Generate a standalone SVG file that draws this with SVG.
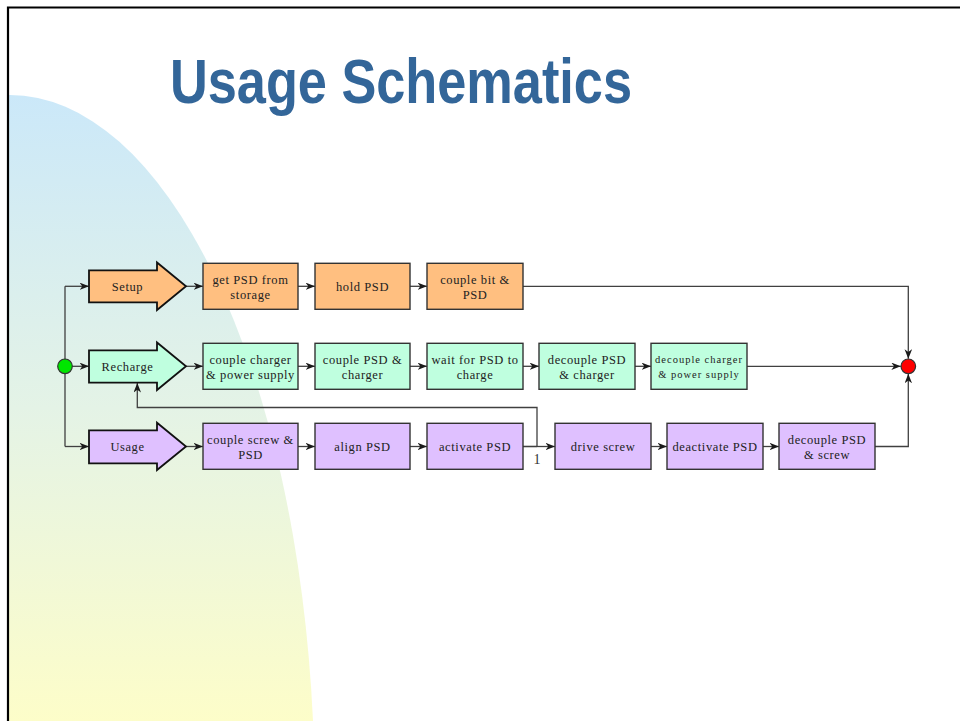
<svg xmlns="http://www.w3.org/2000/svg" width="960" height="721" viewBox="0 0 960 721">
<defs>
<linearGradient id="bg" x1="0" y1="95" x2="0" y2="721" gradientUnits="userSpaceOnUse">
<stop offset="0" stop-color="#cbe8f9"/>
<stop offset="0.5" stop-color="#e4f3e6"/>
<stop offset="1" stop-color="#fdfdc9"/>
</linearGradient>
<marker id="ah" markerUnits="userSpaceOnUse" markerWidth="11" markerHeight="8" refX="9.5" refY="3.75" orient="auto">
<path d="M0,0 L9.5,3.75 L0,7.5 L2.8,3.75 Z" fill="#1a1a1a"/>
</marker>
<style>
.t{font-family:"Liberation Serif","Times New Roman",serif;font-size:12.5px;letter-spacing:0.6px;fill:#222;text-anchor:middle}
.ts{font-family:"Liberation Serif","Times New Roman",serif;font-size:10.5px;letter-spacing:1px;fill:#222;text-anchor:middle}
.box{stroke:#333;stroke-width:1.4}
.arr{stroke:#111;stroke-width:1.8}
.or{fill:#ffbf80}.mi{fill:#bfffdf}.la{fill:#dfc0ff}
.c{fill:none;stroke:#404040;stroke-width:1.3}
.ca{fill:none;stroke:#404040;stroke-width:1.3;marker-end:url(#ah)}
</style>
</defs>
<rect x="0" y="0" width="960" height="721" fill="#fff"/>
<path d="M8,95 L10,95 A305,700 0 0 1 313,721 L8,721 Z" fill="url(#bg)"/>
<path d="M8,721 V7.5 H960" fill="none" stroke="#000" stroke-width="2.2"/>
<text x="170" y="103" font-family="Liberation Sans Narrow, Liberation Sans, Arial, sans-serif" font-weight="bold" font-size="63" fill="#336699" textLength="462" lengthAdjust="spacingAndGlyphs">Usage Schematics</text>

<g id="connectors">
<path class="c" d="M65,286.3 V446.5"/>
<path class="ca" d="M65,286.3 H89"/>
<path class="ca" d="M72,366.3 H89"/>
<path class="ca" d="M65,446.5 H89"/>
<path class="ca" d="M186,286.3 H203"/>
<path class="ca" d="M186,366.3 H203"/>
<path class="ca" d="M186,446.5 H203"/>
<path class="ca" d="M298,286.3 H315"/>
<path class="ca" d="M410,286.3 H427"/>
<path class="ca" d="M523,286.3 H908.3 V358.8"/>
<path class="ca" d="M298,366.3 H315"/>
<path class="ca" d="M410,366.3 H427"/>
<path class="ca" d="M523,366.3 H539"/>
<path class="ca" d="M635,366.3 H651"/>
<path class="ca" d="M747,366.3 H900.8"/>
<path class="ca" d="M298,446.5 H315"/>
<path class="ca" d="M410,446.5 H427"/>
<path class="ca" d="M523,446.5 H555"/>
<path class="c" d="M523,446.5 H537" stroke-width="2.2"/>
<path class="ca" d="M537,446.5 V407.5 H137.3 V383"/>
<path class="ca" d="M651,446.5 H667"/>
<path class="ca" d="M763,446.5 H779"/>
<path class="ca" d="M875,446.5 H908.3 V373.8"/>
<text x="537" y="463.5" font-family="Liberation Serif, serif" font-size="14" fill="#333" text-anchor="middle">1</text>
</g>

<g id="start"><circle cx="65" cy="366.3" r="7.3" fill="#00e600" stroke="#333" stroke-width="1.2"/></g>
<g id="end"><circle cx="908.3" cy="366.3" r="7.3" fill="#ff0000" stroke="#333" stroke-width="1.2"/></g>

<g id="setup"><path class="arr or" d="M89,270.3 H157 V262.5 L186,286.3 L157,310 V302.3 H89 Z"/><text class="t" x="127.5" y="291">Setup</text></g>
<g id="recharge"><path class="arr mi" d="M89,350.3 H157 V342.5 L186,366.3 L157,390 V382.7 H89 Z"/><text class="t" x="127.5" y="371">Recharge</text></g>
<g id="usage"><path class="arr la" d="M89,430.3 H157 V422.7 L186,446.5 L157,470 V463.3 H89 Z"/><text class="t" x="127.5" y="451">Usage</text></g>

<g id="s1"><rect class="box or" x="203" y="263.3" width="95" height="46"/><text class="t" x="250.5" y="284">get PSD from</text><text class="t" x="250.5" y="299">storage</text></g>
<g id="s2"><rect class="box or" x="315" y="263.3" width="95" height="46"/><text class="t" x="362.5" y="291">hold PSD</text></g>
<g id="s3"><rect class="box or" x="427" y="263.3" width="96" height="46"/><text class="t" x="475" y="284">couple bit &amp;</text><text class="t" x="475" y="299">PSD</text></g>

<g id="r1"><rect class="box mi" x="203" y="343.3" width="95" height="46"/><text class="t" x="250.5" y="364">couple charger</text><text class="t" x="250.5" y="379">&amp; power supply</text></g>
<g id="r2"><rect class="box mi" x="315" y="343.3" width="95" height="46"/><text class="t" x="362.5" y="364">couple PSD &amp;</text><text class="t" x="362.5" y="379">charger</text></g>
<g id="r3"><rect class="box mi" x="427" y="343.3" width="96" height="46"/><text class="t" x="475" y="364">wait for PSD to</text><text class="t" x="475" y="379">charge</text></g>
<g id="r4"><rect class="box mi" x="539" y="343.3" width="96" height="46"/><text class="t" x="587" y="364">decouple PSD</text><text class="t" x="587" y="379">&amp; charger</text></g>
<g id="r5"><rect class="box mi" x="651" y="343.3" width="96" height="46"/><text class="ts" x="699" y="363">decouple charger</text><text class="ts" x="699" y="378">&amp; power supply</text></g>

<g id="u1"><rect class="box la" x="203" y="423.3" width="95" height="46"/><text class="t" x="250.5" y="444">couple screw &amp;</text><text class="t" x="250.5" y="459">PSD</text></g>
<g id="u2"><rect class="box la" x="315" y="423.3" width="95" height="46"/><text class="t" x="362.5" y="451">align PSD</text></g>
<g id="u3"><rect class="box la" x="427" y="423.3" width="96" height="46"/><text class="t" x="475" y="451">activate PSD</text></g>
<g id="u4"><rect class="box la" x="555" y="423.3" width="96" height="46"/><text class="t" x="603" y="451">drive screw</text></g>
<g id="u5"><rect class="box la" x="667" y="423.3" width="96" height="46"/><text class="t" x="715" y="451">deactivate PSD</text></g>
<g id="u6"><rect class="box la" x="779" y="423.3" width="96" height="46"/><text class="t" x="827" y="444">decouple PSD</text><text class="t" x="827" y="459">&amp; screw</text></g>
</svg>
